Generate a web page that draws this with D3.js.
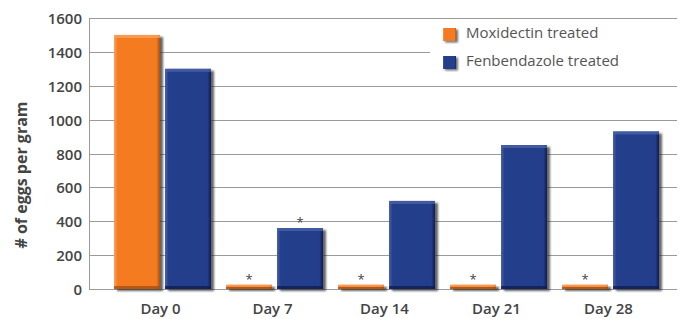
<!DOCTYPE html>
<html>
<head>
<meta charset="utf-8">
<script src="https://cdn.jsdelivr.net/npm/d3@7"></script>
<style>
  body { margin: 0; background: #fff; }
  svg text { font-family: "Open Sans", "DejaVu Sans", sans-serif; }
</style>
</head>
<body>
<div id="chart"></div>
<script>
// data
const days = ["Day 0", "Day 7", "Day 14", "Day 21", "Day 28"];
const moxidectin = [1500, 25, 25, 25, 25];
const fenbendazole = [1300, 360, 520, 850, 930];
const moxStar = [false, true, true, true, true];
const fenStar = [false, true, false, false, false];
const yTicks = [0, 200, 400, 600, 800, 1000, 1200, 1400, 1600];
const seriesNames = ["Moxidectin treated", "Fenbendazole treated"];

const width = 681, height = 319,
  margin = { top: 18, right: 4, bottom: 30, left: 89 },
  colors = ["#f47b20", "#233e8b"],
  light = ["#f9a25e", "#4a62a8"],
  dark = ["#a94f0c", "#0f1e52"],
  barW = 46, gap = 5;

const svg = d3.select('#chart').append('svg')
  .attr('width', width)
  .attr('height', height);

const defs = svg.append('defs');
defs.append('filter').attr('id', 'shadow')
  .attr('x', '-20%').attr('y', '-5%').attr('width', '150%').attr('height', '115%')
  .append('feGaussianBlur').attr('stdDeviation', 1.2);

colors.forEach((c, i) => {
  const g = defs.append('linearGradient').attr('id', 'grad' + i)
    .attr('x1', 0).attr('x2', 1).attr('y1', 0).attr('y2', 0);
  g.append('stop').attr('offset', '0%').attr('stop-color', light[i]);
  g.append('stop').attr('offset', '8%').attr('stop-color', c);
  g.append('stop').attr('offset', '92%').attr('stop-color', c);
  g.append('stop').attr('offset', '100%').attr('stop-color', dark[i]);
});

const y = d3.scaleLinear()
  .domain([0, 1600])
  .range([289, margin.top]);

const x = d3.scaleBand()
  .domain(days)
  .range([106.5, 666.5])
  .padding(0);

// grid lines
svg.append('g')
  .selectAll('line')
  .data(yTicks)
  .enter()
  .append('line')
  .attr('x1', margin.left)
  .attr('x2', 677)
  .attr('y1', d => Math.round(y(d)) + 0.5)
  .attr('y2', d => Math.round(y(d)) + 0.5)
  .attr('stroke', '#9a9a9a')
  .attr('stroke-width', 1);

svg.append('line')
  .attr('x1', margin.left + 0.5).attr('x2', margin.left + 0.5)
  .attr('y1', y(1600)).attr('y2', y(0) + 1)
  .attr('stroke', '#9a9a9a');

// legend box hides part of the 1400 line
svg.append('rect')
  .attr('x', 430).attr('y', y(1600) + 2)
  .attr('width', 251).attr('height', y(1200) - y(1600) - 3)
  .attr('fill', '#fff');

// y tick labels
svg.append('g')
  .selectAll('text')
  .data(yTicks)
  .enter()
  .append('text')
  .attr('x', 82)
  .attr('y', d => y(d) + 6)
  .attr('text-anchor', 'end')
  .attr('font-size', 15)
  .attr('font-weight', 600)
  .attr('fill', '#444')
  .text(d => d);

svg.append('text')
  .attr('transform', 'translate(27,175) rotate(-90)')
  .attr('text-anchor', 'middle')
  .attr('font-size', 16)
  .attr('font-weight', 700)
  .attr('fill', '#444')
  .text('# of eggs per gram');

// bars
const groups = svg.append('g').selectAll('g')
  .data(days)
  .enter()
  .append('g');

const drawBar = (sel, vals, i, offset) => {
  const bx = d => x(d) + x.bandwidth() / 2 + offset;
  const by = (d, k) => y(vals[k]);
  const bh = (d, k) => y(0) - y(vals[k]);
  sel.append('rect')
    .attr('x', (d) => bx(d) + 3)
    .attr('y', (d, k) => by(d, k) + 2)
    .attr('width', barW)
    .attr('height', (d, k) => bh(d, k))
    .attr('fill', '#333')
    .attr('opacity', 0.75)
    .attr('filter', 'url(#shadow)');
  sel.append('rect')
    .attr('x', bx)
    .attr('y', by)
    .attr('width', barW)
    .attr('height', bh)
    .attr('fill', 'url(#grad' + i + ')');
  // top highlight
  sel.append('rect')
    .attr('x', bx)
    .attr('y', by)
    .attr('width', barW)
    .attr('height', (d, k) => Math.min(3, bh(d, k) / 2))
    .attr('fill', light[i])
    .attr('opacity', 0.8);
  // bottom dark edge
  sel.append('rect')
    .attr('x', bx)
    .attr('y', (d, k) => y(0) - Math.min(3, bh(d, k) / 2))
    .attr('width', barW)
    .attr('height', (d, k) => Math.min(3, bh(d, k) / 2))
    .attr('fill', dark[i])
    .attr('opacity', 0.8);
};

drawBar(groups, moxidectin, 0, -gap / 2 - barW);
drawBar(groups, fenbendazole, 1, gap / 2);

// significance stars
const stars = svg.append('g');
stars.selectAll('text.mox')
  .data(days.filter((d, k) => moxStar[k]))
  .enter()
  .append('text')
  .attr('x', d => x(d) + x.bandwidth() / 2 - gap / 2 - barW / 2)
  .attr('y', d => y(moxidectin[days.indexOf(d)]) - 1)
  .attr('text-anchor', 'middle')
  .attr('font-size', 13)
  .attr('fill', '#444')
  .text('*');
stars.selectAll('text.fen')
  .data(days.filter((d, k) => fenStar[k]))
  .enter()
  .append('text')
  .attr('x', d => x(d) + x.bandwidth() / 2 + gap / 2 + barW / 2)
  .attr('y', d => y(fenbendazole[days.indexOf(d)]) - 1)
  .attr('text-anchor', 'middle')
  .attr('font-size', 13)
  .attr('fill', '#444')
  .text('*');

// x labels
svg.append('g')
  .selectAll('text')
  .data(days)
  .enter()
  .append('text')
  .attr('x', d => x(d) + x.bandwidth() / 2 - 2)
  .attr('y', 314)
  .attr('text-anchor', 'middle')
  .attr('font-size', 15)
  .attr('font-weight', 600)
  .attr('fill', '#444')
  .text(d => d);

// legend
const legend = svg.append('g');
seriesNames.forEach((name, i) => {
  const ly = 28 + i * 28;
  legend.append('rect')
    .attr('x', 445).attr('y', ly + 1.5)
    .attr('width', 13).attr('height', 13)
    .attr('fill', '#333').attr('opacity', 0.7)
    .attr('filter', 'url(#shadow)');
  legend.append('rect')
    .attr('x', 443).attr('y', ly)
    .attr('width', 13).attr('height', 13)
    .attr('fill', 'url(#grad' + i + ')');
  legend.append('text')
    .attr('x', 466).attr('y', ly + 10)
    .attr('font-size', 15)
    .attr('fill', '#555')
    .text(name);
});
</script>
</body>
</html>
